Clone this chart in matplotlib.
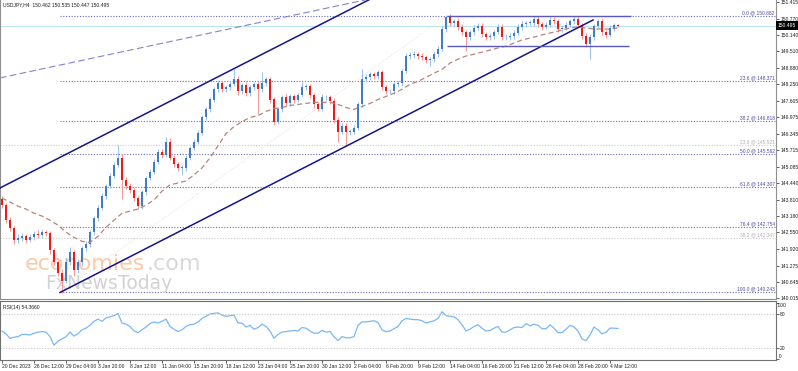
import numpy as np
import matplotlib
matplotlib.use("Agg")
import matplotlib.pyplot as plt
from matplotlib.patches import Rectangle

plt.rcParams['font.family'] = ['Liberation Sans', 'DejaVu Sans']

# ---------------- data (each candle = 8 hours) ----------------
first_open = 143.85
closes = [
    143.60, 143.02, 142.71, 142.25, 142.33, 142.40, 142.25, 142.36, 142.48, 142.44,
    142.56, 142.52, 141.86, 141.40, 141.01, 140.70, 141.40, 141.78, 141.09, 141.40,
    141.94, 142.09, 142.56, 143.10, 143.49, 143.95, 144.34, 144.72, 145.15, 145.42,
    144.57, 144.34, 144.18, 143.87, 143.56, 144.10, 144.65, 144.88, 145.27, 145.65,
    145.54, 146.04, 145.42, 145.19, 145.03, 145.03, 145.42, 145.81, 146.04, 146.39,
    146.97, 147.28, 147.66, 148.05, 148.28, 148.05, 148.13, 148.24, 148.44, 147.97,
    148.20, 147.90, 148.13, 148.24, 148.05, 148.28, 148.44, 147.66, 146.81, 147.28,
    147.74, 147.51, 147.78, 147.66, 147.82, 148.13, 148.17, 147.82, 147.47, 147.31,
    147.74, 147.74, 147.62, 146.89, 146.43, 146.66, 146.43, 146.43, 146.58, 147.47,
    148.44, 148.51, 148.63, 148.55, 148.71, 148.13, 147.97, 147.97, 148.24, 148.28,
    148.75, 149.33, 149.37, 149.40, 149.33, 149.29, 149.17, 149.21, 149.40, 149.60,
    150.37, 150.83, 150.60, 150.68, 150.45, 150.25, 150.06, 150.25, 150.41, 150.49,
    150.18, 150.06, 150.10, 150.25, 150.45, 150.06, 150.06, 150.10, 150.22, 150.45,
    150.56, 150.60, 150.60, 150.76, 150.56, 150.45, 150.53, 150.72, 150.68, 150.37,
    150.41, 150.53, 150.68, 150.76, 150.53, 150.10, 149.79, 150.06, 150.49, 150.68,
    150.25, 150.14, 150.41, 150.53, 150.495]
upper_wick = [
    0.10, 0.08, 0.12, 0.10, 0.15, 0.12, 0.10, 0.14, 0.12, 0.18,
    0.12, 0.10, 0.08, 0.10, 0.08, 0.12, 0.15, 0.20, 0.10, 0.12,
    0.10, 0.12, 0.10, 0.08, 0.10, 0.10, 0.08, 0.10, 0.10, 0.50,
    0.15, 0.12, 0.10, 0.08, 0.10, 0.10, 0.08, 0.10, 0.10, 0.12,
    0.10, 0.19, 0.15, 0.10, 0.08, 0.10, 0.10, 0.08, 0.10, 0.10,
    0.08, 0.10, 0.08, 0.10, 0.12, 0.10, 0.10, 0.12, 0.38, 0.12,
    0.10, 0.12, 0.10, 0.10, 0.10, 0.43, 0.10, 0.08, 0.10, 0.10,
    0.10, 0.12, 0.10, 0.10, 0.10, 0.19, 0.10, 0.08, 0.10, 0.10,
    0.12, 0.10, 0.10, 0.08, 0.10, 0.10, 0.10, 0.10, 0.10, 0.10,
    0.38, 0.12, 0.10, 0.10, 0.10, 0.10, 0.10, 0.08, 0.10, 0.10,
    0.10, 0.12, 0.10, 0.12, 0.10, 0.10, 0.08, 0.10, 0.10, 0.10,
    0.10, 0.05, 0.10, 0.08, 0.10, 0.10, 0.08, 0.10, 0.10, 0.10,
    0.10, 0.08, 0.10, 0.10, 0.10, 0.12, 0.10, 0.10, 0.10, 0.10,
    0.10, 0.08, 0.10, 0.10, 0.10, 0.08, 0.10, 0.10, 0.10, 0.08,
    0.10, 0.10, 0.08, 0.10, 0.10, 0.08, 0.10, 0.10, 0.08, 0.08,
    0.10, 0.08, 0.10, 0.08, 0.04]
lower_wick = [
    0.10, 0.12, 0.10, 0.15, 0.10, 0.12, 0.10, 0.08, 0.10, 0.12,
    0.10, 0.10, 0.12, 0.10, 0.12, 0.46, 0.10, 0.10, 0.20, 0.10,
    0.12, 0.10, 0.08, 0.10, 0.10, 0.08, 0.10, 0.10, 0.08, 0.10,
    0.75, 0.12, 0.10, 0.12, 0.11, 0.10, 0.10, 0.08, 0.10, 0.10,
    0.12, 0.10, 0.10, 0.12, 0.10, 0.27, 0.10, 0.08, 0.10, 0.10,
    0.10, 0.08, 0.10, 0.10, 0.10, 0.12, 0.10, 0.10, 0.08, 0.12,
    0.10, 0.12, 0.10, 0.10, 0.95, 0.10, 0.10, 0.12, 0.12, 0.10,
    0.10, 0.12, 0.10, 0.12, 0.10, 0.08, 0.10, 0.10, 0.12, 0.10,
    0.10, 0.10, 0.12, 0.15, 0.39, 0.10, 0.50, 0.12, 0.10, 0.10,
    0.08, 0.10, 0.10, 0.10, 0.10, 0.12, 0.10, 0.10, 0.08, 0.10,
    0.10, 0.08, 0.10, 0.10, 0.10, 0.10, 0.12, 0.23, 0.10, 0.10,
    0.08, 0.10, 0.10, 0.10, 0.10, 0.12, 0.54, 0.10, 0.10, 0.08,
    0.10, 0.12, 0.10, 0.10, 0.08, 0.12, 0.10, 0.10, 0.10, 0.08,
    0.10, 0.10, 0.08, 0.10, 0.10, 0.10, 0.08, 0.10, 0.10, 0.10,
    0.10, 0.08, 0.10, 0.10, 0.10, 0.12, 0.10, 0.58, 0.10, 0.10,
    0.10, 0.10, 0.08, 0.10, 0.05]
# moving average, one value every 2 candles
ma_values = [
    143.87, 143.72, 143.56, 143.45, 143.29, 143.18, 143.02, 142.83, 142.56, 142.36,
    142.21, 142.17, 142.40, 142.75, 143.02, 143.29, 143.37, 143.45, 143.60, 143.80,
    144.14, 144.38, 144.45, 144.53, 144.76, 145.03, 145.42, 145.88, 146.35, 146.62,
    146.81, 146.97, 147.04, 147.20, 147.31, 147.35, 147.43, 147.47, 147.51, 147.55,
    147.55, 147.55, 147.47, 147.35, 147.28, 147.39, 147.51, 147.66, 147.78, 147.90,
    148.05, 148.24, 148.36, 148.51, 148.67, 148.82, 149.06, 149.21, 149.33, 149.40,
    149.48, 149.56, 149.64, 149.71, 149.83, 149.95, 150.02, 150.10, 150.18, 150.25,
    150.33, 150.41, 150.45, 150.41, 150.37, 150.37, 150.37, 150.41]
rsi_values = [
    50, 45, 37, 39, 40, 44, 44, 43, 46, 48,
    49, 48, 40, 25, 32, 36, 40, 48, 41, 45,
    52, 55, 60, 67, 71, 67, 73, 75, 77, 81,
    64, 62, 58, 50, 47, 52, 57, 63, 66, 64,
    67, 71, 58, 53, 49, 52, 58, 61, 62, 66,
    72, 76, 80, 81, 82, 78, 76, 77, 78, 64,
    64, 57, 60, 53, 56, 62, 58, 50, 37, 44,
    48, 49, 50, 51, 50, 56, 55, 50, 46, 46,
    51, 48, 49, 40, 33, 40, 38, 38, 40, 60,
    66, 66, 67, 68, 65, 52, 49, 50, 54, 58,
    68, 72, 71, 70, 70, 68, 64, 66, 68, 72,
    84, 77, 76, 75, 70, 61, 50, 53, 58, 61,
    55, 50, 51, 55, 58, 48, 48, 52, 56, 57,
    56, 63, 59, 62, 60, 54, 54, 61, 55, 47,
    47, 53, 60, 57, 50, 36, 33, 43, 57, 52,
    45, 48, 55, 55, 54.366]

date_labels = ["20 Dec 2023", "26 Dec 12:00", "29 Dec 04:00", "3 Jan 20:00", "8 Jan 12:00",
               "11 Jan 04:00", "15 Jan 20:00", "18 Jan 12:00", "23 Jan 04:00", "25 Jan 20:00",
               "30 Jan 12:00", "2 Feb 04:00", "6 Feb 20:00", "9 Feb 12:00", "14 Feb 04:00",
               "16 Feb 20:00", "21 Feb 12:00", "26 Feb 04:00", "28 Feb 20:00", "4 Mar 12:00"]
price_ticks = [151.415, 150.770, 150.140, 149.510, 148.880, 148.250, 147.605, 146.975,
               146.345, 145.715, 145.085, 144.440, 143.810, 143.180, 142.550, 141.920,
               141.275, 140.645, 140.015]
fib_levels = [150.882, 148.371, 146.818, 145.562, 144.307, 142.754, 140.243]
fib_texts = ["0.0 @ 150.882", "23.6 @ 148.371", "38.2 @ 146.818", "50.0 @ 145.562",
             "61.8 @ 144.307", "76.4 @ 142.754", "100.0 @ 140.243"]
fib2_levels = [145.921, 142.347]
fib2_texts = ["23.6 @ 145.921", "38.2 @ 142.347"]
current_price = 150.495
rsi_levels = [80, 20]
# drawing objects: (candle index, price) anchors
fib_anchor = [(14.5, 140.243), (111.25, 150.882)]
lower_channel = [(14.5, 140.243), (147.75, 150.716)]
upper_channel = [(-0.5, 144.26), (100.0, 152.14)]
dashed_line = [(-0.5, 148.49), (100.0, 151.79)]
range_top = (111.25, 157.25, 150.882)
range_bottom = (111.25, 156.75, 149.72)

# ---------------- figure ----------------
W, H = 798, 371
fig = plt.figure(figsize=(W / 100, H / 100), dpi=100)
fig.patch.set_facecolor('white')


def px_axes(x0, y0, x1, y1):
    return fig.add_axes([x0 / W, 1 - y1 / H, (x1 - x0) / W, (y1 - y0) / H])


ax = px_axes(0, 0, 776, 298.5)
ar = px_axes(0, 301, 776, 360)

n = len(closes)
x = np.arange(n)
c = np.array(closes)
o = np.concatenate([[first_open], c[:-1]])
hi = np.maximum(o, c) + np.array(upper_wick)
lo = np.minimum(o, c) - np.array(lower_wick)
up = c >= o

bull_body, bull_wick = '#3f7fc0', '#9fc3e6'
bear_body, bear_wick = '#f01818', '#f59a9a'

ax.vlines(x[up], lo[up], hi[up], color=bull_wick, lw=0.8, zorder=3)
ax.vlines(x[~up], lo[~up], hi[~up], color=bear_wick, lw=0.8, zorder=3)
bh = np.maximum(np.abs(c - o), 0.02)
ax.bar(x[up], bh[up], bottom=np.minimum(o, c)[up], width=0.55, color=bull_body, zorder=4, lw=0)
ax.bar(x[~up], bh[~up], bottom=np.minimum(o, c)[~up], width=0.55, color=bear_body, zorder=4, lw=0)

# moving average
ax.plot(np.arange(0, n, 2), ma_values, color='#b8847a', lw=0.9, ls=(0, (4, 2.5)), zorder=5)

# current price line
ax.axhline(current_price, color='#bfe6f0', lw=0.9, zorder=1)

# fibonacci levels
for lv, tx in zip(fib_levels, fib_texts):
    ax.hlines(lv, fib_anchor[0][0], 193.5, color='#6a6ac0', lw=0.8, ls=(0, (1, 1.5)), zorder=2)
    ax.text(193.2, lv + 0.03, tx, ha='right', va='bottom', fontsize=3.5, color='#4a4aa8', zorder=6)
for lv, tx in zip(fib2_levels, fib2_texts):
    ax.hlines(lv, -0.5, 193.5, color='#c8c8c8', lw=0.8, ls=(0, (1, 1.5)), zorder=2)
    ax.text(193.2, lv + 0.03, tx, ha='right', va='bottom', fontsize=3.5, color='#b0b0b0', zorder=6)
ax.plot([p[0] for p in fib_anchor], [p[1] for p in fib_anchor], color='#d8d8d8', lw=0.6,
        ls=(0, (1, 2)), zorder=2)

# trend lines
ax.plot([p[0] for p in lower_channel], [p[1] for p in lower_channel], color='#14148c', lw=1.1, zorder=6)
ax.plot([p[0] for p in upper_channel], [p[1] for p in upper_channel], color='#14148c', lw=1.1, zorder=6)
ax.plot([p[0] for p in dashed_line], [p[1] for p in dashed_line], color='#8484cc', lw=0.8,
        ls=(0, (6, 3)), zorder=6)
ax.hlines(range_top[2], range_top[0], range_top[1], color='#5a5ab8', lw=1.0, zorder=6)
ax.hlines(range_bottom[2], range_bottom[0], range_bottom[1], color='#5a5ab8', lw=1.0, zorder=6)

# watermark
def fx(px):
    return (px - 2) / 4.0

ax.text(fx(25), 141.12, "economies", fontsize=16, family='DejaVu Sans', color='#fccaa6',
        ha='left', va='baseline', zorder=2.5)
ax.text(fx(147), 141.12, ".com", fontsize=16, family='DejaVu Sans', color='#d8d8d8',
        ha='left', va='baseline', zorder=2.5)
ax.text(fx(45), 140.36, "FxNewsToday", fontsize=13.5, family='DejaVu Sans', color='#d2d2d2',
        ha='left', va='baseline', zorder=2.5)

ax.set_xlim(-0.5, 193.5)
ax.set_ylim(140.012, 151.484)
ax.set_xticks([])
ax.yaxis.tick_right()
ax.set_yticks(price_ticks)
ax.set_yticklabels([f"{v:.3f}" for v in price_ticks])
ax.tick_params(axis='y', direction='out', length=2, width=0.5, pad=1, labelsize=3.6, colors='#202020')
for s in ['left', 'bottom', 'right']:
    ax.spines[s].set_color('#909090')
    ax.spines[s].set_linewidth(0.8)
ax.spines['top'].set_visible(False)

# current price box
fig.patches.append(Rectangle((776 / W, 1 - 30 / H), 22 / W, 9 / H, transform=fig.transFigure,
                             facecolor='black', edgecolor='none', zorder=10))
fig.text(777.5 / W, 1 - 25.7 / H, f"{current_price:.3f}", color='white', fontsize=3.6,
         ha='left', va='center', zorder=11)

fig.text(3 / W, 1 - 5 / H, "USDJPY,H4  150.462 150.535 150.447 150.495", fontsize=3.6,
         ha='left', va='center', color='#202020')

# ---------------- RSI ----------------
ar.plot(x, rsi_values, color='#78b8f8', lw=0.9)
for lv in rsi_levels:
    ar.axhline(lv, color='#c8c8c8', lw=0.8, ls=(0, (1, 1.5)))
ar.set_xlim(-0.5, 193.5)
ar.set_ylim(-1.2, 102.9)
ar.yaxis.tick_right()
ar.set_yticks([0, 20, 80, 100])
ar.set_yticklabels(["", "20", "80", ""])
ar.tick_params(axis='y', direction='out', length=2, width=0.5, pad=1, labelsize=3.6, colors='#202020')
ar.text(1.0, 0.93, " 100", transform=ar.transAxes, fontsize=3.6, ha='left', va='center', color='#202020')
ar.text(1.0, 0.06, "  0", transform=ar.transAxes, fontsize=3.6, ha='left', va='center', color='#202020')
ar.set_xticks(np.arange(0, 8 * len(date_labels), 8))
ar.set_xticklabels(date_labels, ha='left')
ar.tick_params(axis='x', direction='out', length=2, width=0.5, pad=1, labelsize=3.6, colors='#202020')
for s in ar.spines.values():
    s.set_color('#707070')
    s.set_linewidth(0.8)
ar.text(3 / 776, 0.93, "RSI(14) 54.3660", transform=ar.transAxes, fontsize=3.6,
        ha='left', va='top', color='#202020')

fig.savefig("out.png", dpi=100, facecolor='white')
